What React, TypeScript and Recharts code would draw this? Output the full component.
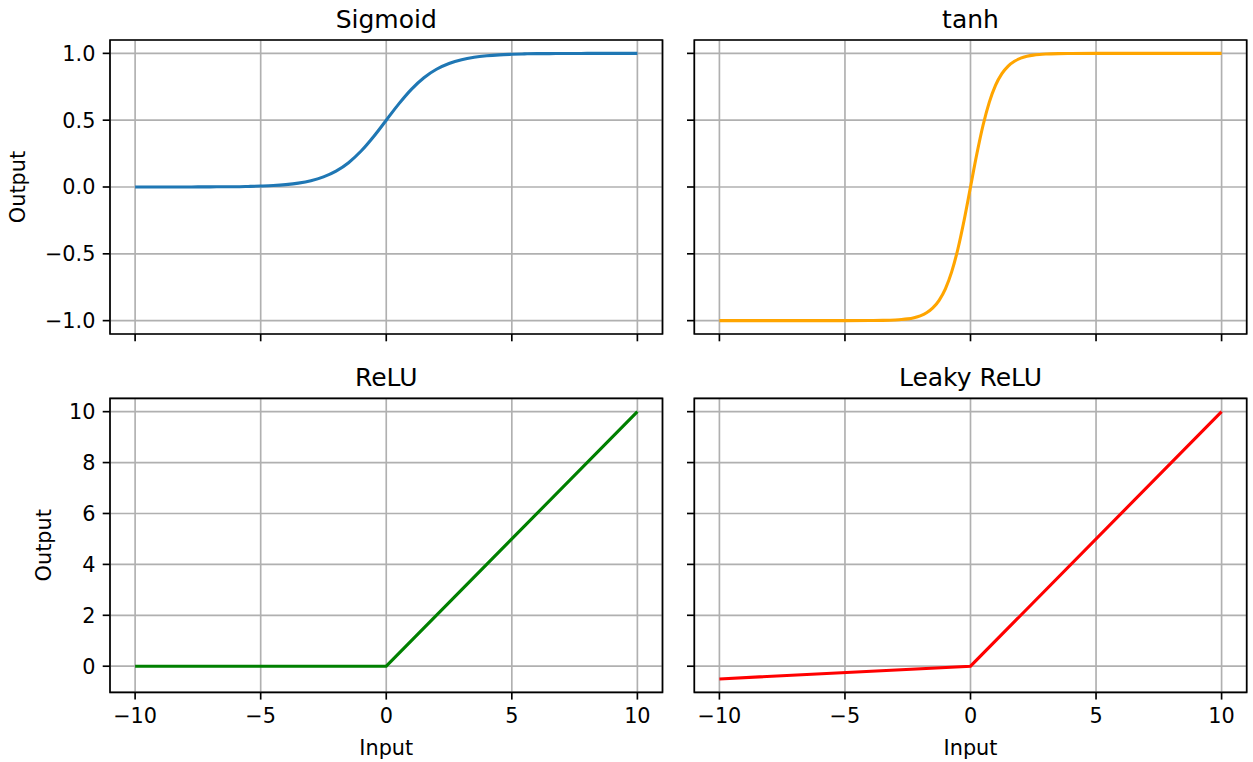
import { LineChart, Line, XAxis, YAxis, CartesianGrid, ReferenceArea } from 'recharts';

// x ticks shared by all four panels
const X_TICKS = [-10, -5, 0, 5, 10];
const TOP_Y_TICKS = [-1, -0.5, 0, 0.5, 1];
const BOTTOM_Y_TICKS = [0, 2, 4, 6, 8, 10];

// sigmoid, sampled every 0.5
const SIGMOID_X = [
  -10, -9.5, -9, -8.5, -8, -7.5, -7, -6.5, -6, -5.5, -5, -4.5, -4, -3.5, -3, -2.5, -2, -1.5, -1, -0.5,
  0, 0.5, 1, 1.5, 2, 2.5, 3, 3.5, 4, 4.5, 5, 5.5, 6, 6.5, 7, 7.5, 8, 8.5, 9, 9.5, 10,
];
const SIGMOID_Y = [
  0, 0, 0, 0, 0, 0.001, 0.001, 0.002, 0.002, 0.004, 0.007, 0.011, 0.018, 0.029, 0.047, 0.076, 0.119, 0.182, 0.269, 0.378,
  0.5, 0.622, 0.731, 0.818, 0.881, 0.924, 0.953, 0.971, 0.982, 0.989, 0.993, 0.996, 0.998, 0.998, 0.999, 0.999, 1, 1, 1, 1, 1,
];

// tanh, denser near the origin where it is steep
const TANH_X = [
  -10, -8, -6, -5, -4, -3.5, -3, -2.75, -2.5, -2.25, -2, -1.75, -1.5, -1.25, -1, -0.75, -0.5, -0.25,
  0, 0.25, 0.5, 0.75, 1, 1.25, 1.5, 1.75, 2, 2.25, 2.5, 2.75, 3, 3.5, 4, 5, 6, 8, 10,
];
const TANH_Y = [
  -1, -1, -1, -1, -0.999, -0.998, -0.995, -0.992, -0.987, -0.978, -0.964, -0.941, -0.905, -0.848, -0.762, -0.635, -0.462, -0.245,
  0, 0.245, 0.462, 0.635, 0.762, 0.848, 0.905, 0.941, 0.964, 0.978, 0.987, 0.992, 0.995, 0.998, 0.999, 1, 1, 1, 1,
];

const RELU_X = [-10, 0, 10];
const RELU_Y = [0, 0, 10];

const LEAKY_X = [-10, 0, 10];
const LEAKY_Y = [-0.5, 0, 10];

const zip = (xs: number[], ys: number[]) => xs.map((x, i) => ({ x, y: ys[i] }));

const W = 1253;
const H = 762;
const FONT = '"DejaVu Sans", "Liberation Sans", sans-serif';
const TICK_FONT = 20.8;
const SPINE = 1.67;
const X_AXIS_H = 66;

const minus = (s: string) => s.replace('-', '\u2212');

interface Panel {
  title: string;
  color: string;
  data: { x: number; y: number }[];
  curve: 'monotone' | 'linear';
  left: number;
  right: number;
  top: number;
  bottom: number;
  yDomain: [number, number];
  yTicks: number[];
  yFmt: (v: number) => string;
  showXLabels: boolean;
  showYLabels: boolean;
  yLabelX?: number;
}

const fmtTop = (v: number) => minus(v.toFixed(1));
const fmtBottom = (v: number) => minus(String(v));

const PANELS: Panel[] = [
  {
    title: 'Sigmoid', color: '#1f77b4', data: zip(SIGMOID_X, SIGMOID_Y), curve: 'monotone',
    left: 110, right: 662.5, top: 40, bottom: 334,
    yDomain: [-1.1, 1.1], yTicks: TOP_Y_TICKS, yFmt: fmtTop,
    showXLabels: false, showYLabels: true, yLabelX: 25,
  },
  {
    title: 'tanh', color: '#ffa500', data: zip(TANH_X, TANH_Y), curve: 'monotone',
    left: 694.3, right: 1246.7, top: 40, bottom: 334,
    yDomain: [-1.1, 1.1], yTicks: TOP_Y_TICKS, yFmt: fmtTop,
    showXLabels: false, showYLabels: false,
  },
  {
    title: 'ReLU', color: '#008000', data: zip(RELU_X, RELU_Y), curve: 'linear',
    left: 110, right: 662.5, top: 398.3, bottom: 692.3,
    yDomain: [-1.025, 10.525], yTicks: BOTTOM_Y_TICKS, yFmt: fmtBottom,
    showXLabels: true, showYLabels: true, yLabelX: 51,
  },
  {
    title: 'Leaky ReLU', color: '#ff0000', data: zip(LEAKY_X, LEAKY_Y), curve: 'linear',
    left: 694.3, right: 1246.7, top: 398.3, bottom: 692.3,
    yDomain: [-1.025, 10.525], yTicks: BOTTOM_Y_TICKS, yFmt: fmtBottom,
    showXLabels: true, showYLabels: false,
  },
];

// rotated "Output" label; baseline sits at baseX, centred on the plot height
function OutputLabel({ baseX, midY }: { baseX: number; midY: number }) {
  return (
    <text
      x={baseX}
      y={midY}
      transform={`rotate(-90, ${baseX}, ${midY})`}
      textAnchor="middle"
      fontSize={TICK_FONT}
      fontFamily={FONT}
      fill="#000"
    >
      Output
    </text>
  );
}

function PanelChart({ p }: { p: Panel }) {
  const tickStyle = { fill: '#000', fontSize: TICK_FONT, fontFamily: FONT };
  return (
    <div style={{ position: 'absolute', left: 0, top: 0 }}>
      <LineChart
        width={W}
        height={H}
        data={p.data}
        margin={{ top: p.top, right: W - p.right, left: 0, bottom: H - p.bottom - X_AXIS_H }}
      >
        <CartesianGrid stroke="#b0b0b0" strokeWidth={SPINE} />
        <XAxis
          dataKey="x"
          type="number"
          domain={[-11, 11]}
          ticks={X_TICKS}
          allowDataOverflow
          height={X_AXIS_H}
          axisLine={false}
          tickSize={7.3}
          tickLine={{ stroke: '#000', strokeWidth: SPINE }}
          tickMargin={9}
          tick={tickStyle}
          tickFormatter={(v: number) => (p.showXLabels ? minus(String(v)) : '')}
          label={p.showXLabels ? { value: 'Input', position: 'insideBottom', offset: 3, fill: '#000', fontSize: TICK_FONT, fontFamily: FONT } : undefined}
        />
        <YAxis
          type="number"
          domain={p.yDomain}
          ticks={p.yTicks}
          allowDataOverflow
          width={p.left}
          axisLine={false}
          tickSize={7.3}
          tickLine={{ stroke: '#000', strokeWidth: SPINE }}
          tickMargin={7.3}
          tick={tickStyle}
          tickFormatter={(v: number) => (p.showYLabels ? p.yFmt(v) : '')}
          label={p.showYLabels ? <OutputLabel baseX={p.yLabelX ?? 25} midY={(p.top + p.bottom) / 2} /> : undefined}
        />
        <ReferenceArea
          x1={-11}
          x2={11}
          y1={p.yDomain[0]}
          y2={p.yDomain[1]}
          fill="none"
          fillOpacity={0}
          stroke="#000"
          strokeWidth={SPINE}
          label={{ value: p.title, position: 'top', offset: 12.5, fill: '#000', fontSize: 25, fontFamily: FONT }}
        />
        <Line
          dataKey="y"
          type={p.curve}
          stroke={p.color}
          strokeWidth={3.1}
          dot={false}
          isAnimationActive={false}
        />
      </LineChart>
    </div>
  );
}

export default function App() {
  return (
    <div style={{ position: 'absolute', left: 0, top: 0, width: W, height: H, background: '#fff' }}>
      {PANELS.map(p => (
        <PanelChart key={p.title} p={p} />
      ))}
    </div>
  );
}
